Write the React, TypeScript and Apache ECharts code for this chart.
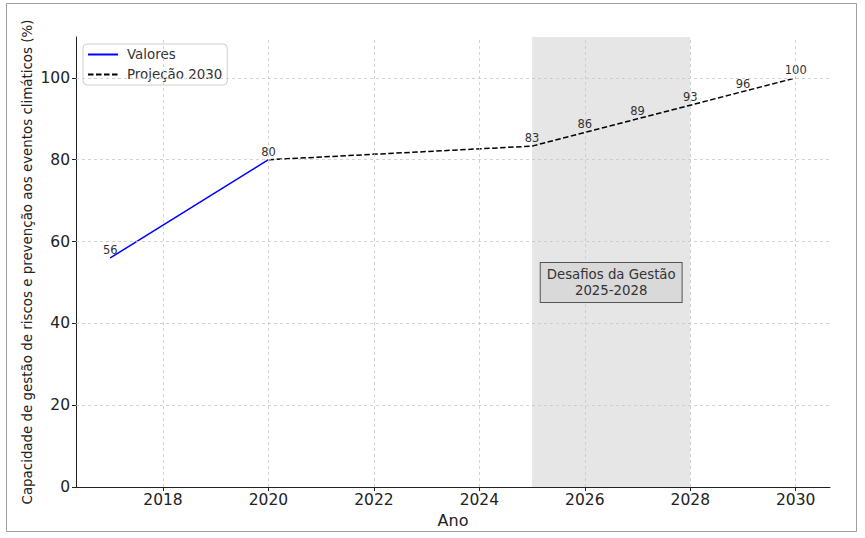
import React, { useEffect, useRef } from "react";
import * as echarts from "echarts";

const valoresYears = [2017, 2020];
const valoresValues = [56, 80];
const valoresLabels = ["56", "80"];

const projYears = [2020, 2025, 2026, 2027, 2028, 2029, 2030];
const projValues = [80, 83.33, 86.67, 90, 93.33, 96.67, 100];
const projLabels = ["", "83", "86", "89", "93", "96", "100"];

const xTicks = [2018, 2020, 2022, 2024, 2026, 2028, 2030];
const yTicks = [0, 20, 40, 60, 80, 100];
const spanStart = 2025;
const spanEnd = 2028;
const noteText = "Desafios da Gestão\n2025-2028";
const notePos = [2026.5, 50];

const FONT = "DejaVu Sans";

export default function App() {
  const ref = useRef<HTMLDivElement>(null);
  useEffect(() => {
    if (!ref.current) return;
    const chart = echarts.init(ref.current, undefined, { renderer: "svg" });
    const gridStyle = { color: "#c8c8c8", type: [3, 3] as any, width: 0.8 };
    const labelCfg = (labels: string[]) => ({
      show: true,
      position: "top",
      distance: 2,
      fontFamily: FONT,
      fontSize: 11.5,
      color: "#333",
      formatter: (p: any) => labels[p.dataIndex],
    });
    chart.setOption({
      animation: false,
      backgroundColor: "#fff",
      textStyle: { fontFamily: FONT },
      graphic: [
        {
          type: "rect",
          shape: { x: 6.5, y: 3.5, width: 850, height: 528 },
          style: { fill: "none", stroke: "#a0a0a0", lineWidth: 1 },
          silent: true,
        },
      ],
      grid: { left: 76, right: 35, top: 37, bottom: 51 },
      legend: {
        orient: "vertical",
        left: 83,
        top: 44,
        padding: [4, 5, 4, 4],
        itemGap: 7,
        itemWidth: 30,
        itemHeight: 14,
        backgroundColor: "#fff",
        borderColor: "#d0d0d0",
        borderWidth: 1,
        borderRadius: 4,
        itemStyle: { opacity: 0, borderWidth: 0 },
        textStyle: { fontFamily: FONT, fontSize: 13.4, color: "#333", padding: [0, 0, 0, 4] },
        data: ["Valores", "Projeção 2030"],
      },
      xAxis: {
        type: "value",
        min: 2016.35,
        max: 2030.65,
        name: "Ano",
        nameLocation: "middle",
        nameGap: 25,
        nameMoveOverlap: false,
        nameTextStyle: { fontFamily: FONT, fontSize: 16, color: "#222" },
        axisLine: { show: true, onZero: false, lineStyle: { color: "#222", width: 1 } },
        axisTick: { show: true, length: 4, customValues: xTicks, lineStyle: { color: "#222" } },
        axisLabel: {
          customValues: xTicks,
          fontFamily: FONT,
          fontSize: 15.5,
          color: "#222",
          margin: 5,
          formatter: (v: number) => String(v),
        },
        splitLine: { show: false },
      },
      yAxis: {
        type: "value",
        min: 0,
        max: 110,
        name: "Capacidade de gestão de riscos e prevenção aos eventos climáticos (%)",
        nameLocation: "middle",
        nameGap: 42,
        nameMoveOverlap: false,
        nameTextStyle: { fontFamily: FONT, fontSize: 13.4, color: "#222" },
        axisLine: { show: true, lineStyle: { color: "#222", width: 1 } },
        axisTick: { show: true, length: 4, customValues: yTicks, lineStyle: { color: "#222" } },
        axisLabel: {
          customValues: yTicks,
          fontFamily: FONT,
          fontSize: 15.5,
          color: "#222",
          margin: 6,
        },
        splitLine: { show: false },
      },
      series: [
        {
          name: "grid",
          type: "line",
          data: [],
          silent: true,
          markArea: {
            silent: true,
            itemStyle: { color: "rgba(128,128,128,0.2)" },
            data: [[{ xAxis: spanStart }, { xAxis: spanEnd }]],
          },
          markLine: {
            silent: true,
            symbol: "none",
            label: { show: false },
            lineStyle: gridStyle,
            data: [
              ...xTicks.map((x) => ({ xAxis: x })),
              ...yTicks.filter((y) => y > 0).map((y) => ({ yAxis: y })),
            ],
          },
          markPoint: {
            silent: true,
            symbol: "rect",
            symbolSize: 0,
            data: [{ coord: notePos }],
            label: {
              show: true,
              position: "inside",
              formatter: noteText,
              fontFamily: FONT,
              fontSize: 13.3,
              lineHeight: 16,
              color: "#333",
              align: "center",
              backgroundColor: "#d9d9d9",
              borderColor: "#555",
              borderWidth: 1,
              padding: [4, 6, 3, 6],
            },
          },
        },
        {
          name: "Valores",
          type: "line",
          data: valoresYears.map((y, i) => [y, valoresValues[i]]),
          symbol: "circle",
          symbolSize: 0,
          showSymbol: true,
          color: "blue",
          itemStyle: { color: "blue", borderWidth: 0 },
          lineStyle: { color: "blue", width: 1.5 },
          label: labelCfg(valoresLabels),
          z: 3,
        },
        {
          name: "Projeção 2030",
          type: "line",
          data: projYears.map((y, i) => [y, projValues[i]]),
          symbol: "circle",
          symbolSize: 0,
          showSymbol: true,
          color: "#000",
          itemStyle: { color: "#000", borderWidth: 0 },
          lineStyle: { color: "#000", width: 1.5, type: [5.5, 2.5] },
          label: labelCfg(projLabels),
          z: 3,
        },
      ],
    });
    return () => chart.dispose();
  }, []);
  return (
    <div
      ref={ref}
      style={{ position: "fixed", left: 0, top: 0, width: 865, height: 538 }}
    />
  );
}
